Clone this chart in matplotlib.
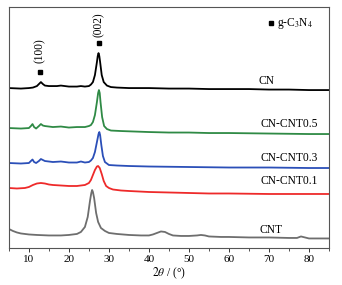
import matplotlib
matplotlib.use("Agg")
import matplotlib.pyplot as plt
from matplotlib.ticker import MultipleLocator

plt.rcParams['font.family'] = ['Liberation Serif', 'DejaVu Serif']
plt.rcParams['mathtext.fontset'] = 'stix'

# 2theta positions and stacked (offset) intensities
cn_x = [5, 8, 10, 11, 12, 12.5, 13, 13.5, 14, 15, 17, 18, 20, 22, 23, 24, 25, 25.5, 26, 26.5,
        27, 27.2, 27.4, 27.6, 27.8, 28.2, 28.7, 29.5, 30.5, 32, 35, 40, 45, 50, 55, 60, 65, 70, 75, 80, 85]
cn_y = [160, 159.5, 160, 160.5, 162, 164, 166, 164, 162.5, 162, 162, 162.5, 161.5, 161.5, 162, 161.5, 162, 163.5, 166, 173,
        186, 192, 195, 192, 186, 173, 166, 162.5, 161, 160.5, 160, 160, 159.5, 159.5, 159, 159, 159, 158.5, 158.5, 158, 158]

cnt05_x = [5, 8, 10, 10.5, 10.9, 11.3, 11.8, 12.5, 13, 13.5, 14, 16, 18, 20, 22, 24, 25, 25.5, 26, 26.5,
           27, 27.3, 27.5, 27.7, 27.9, 28.3, 28.8, 29.5, 30.5, 33, 40, 45, 50, 55, 60, 70, 80, 85]
cnt05_y = [120, 119.5, 120, 122, 124, 121, 119.5, 122, 124, 122.5, 122, 121, 121.5, 120.5, 121, 121, 122, 123, 126, 133,
           146, 155, 158, 155, 146, 131, 122, 119, 117.5, 117, 116, 115.5, 115.5, 115, 115, 114.5, 114, 114]

cnt03_x = [5, 8, 10, 10.5, 10.9, 11.3, 11.8, 12.5, 13, 13.5, 14, 16, 18, 20, 22, 23, 24, 25, 25.5, 26, 26.5,
           27, 27.4, 27.6, 27.8, 28.1, 28.5, 29, 30, 32, 35, 40, 50, 60, 70, 80, 85]
cnt03_y = [85, 84.5, 85, 87, 88.5, 86, 85, 87, 89, 88, 87, 86, 86.5, 85.5, 85.5, 86.5, 85.5, 86, 87.5, 90, 96,
           106, 114, 116, 113, 103, 92, 86, 83, 82.5, 82, 81.5, 81, 80.5, 80.5, 80, 80]

cnt01_x = [5, 7, 9, 10, 11, 12, 13, 14, 15, 16, 18, 20, 22, 24, 25, 25.5, 26, 26.5, 27, 27.3,
           27.7, 28.2, 28.7, 29.3, 30, 31, 33, 35, 40, 45, 50, 55, 60, 70, 80, 85]
cnt01_y = [60, 59.5, 60, 61, 63, 64.5, 65, 64.5, 63.5, 63, 62.5, 62, 62, 63, 65, 68, 73, 78, 81.5, 82,
           80, 74, 67, 62, 60, 58.5, 57.5, 57, 56, 55.5, 55, 54.5, 54.5, 54, 54, 54]

cnt_x = [5, 6, 7, 8, 10, 12, 15, 18, 20, 22, 23, 24, 24.7, 25.3, 25.6, 25.8, 26.0, 26.3, 26.8, 27.3,
         28, 29, 30, 32, 35, 38, 40, 41, 42, 43, 44, 45, 46, 48, 50, 52, 53, 54, 55, 58,
         60, 65, 70, 75, 77, 78, 79, 80, 85]
cnt_y = [19, 17, 15.5, 14.5, 13.5, 13, 12.5, 12.5, 13, 14, 16, 21, 31, 48, 55, 58, 56, 50, 35, 26,
         20, 17, 15, 14, 13, 12.5, 12.5, 13.5, 15, 16.5, 16, 14, 12.5, 12, 12, 12.5, 13, 12.5, 11.5, 11,
         11, 10.5, 10.5, 10, 10, 11.5, 10.5, 9.5, 9.5]

series = [
    (cn_x, cn_y, '#000000', 'CN'),
    (cnt05_x, cnt05_y, '#2f8a45', 'CN-CNT0.5'),
    (cnt03_x, cnt03_y, '#2b4fb8', 'CN-CNT0.3'),
    (cnt01_x, cnt01_y, '#ee2a2a', 'CN-CNT0.1'),
    (cnt_x, cnt_y, '#6e6e6e', 'CNT'),
]
label_pos = [(69.5, 167), (75, 124), (75, 90), (75, 67), (70.5, 18)]

fig = plt.figure(figsize=(3.42, 2.85), dpi=100)
ax = fig.add_axes([0.026, 0.130, 0.936, 0.845])

for (x, y, c, name), (lx, ly) in zip(series, label_pos):
    ax.plot(x, y, color=c, lw=1.3)
    ax.text(lx, ly, name, color='black', fontsize=8.3, ha='center', va='center')

# peak annotations
ax.plot([12.75], [176], 's', color='black', ms=3.2)
ax.text(12.75, 197, '(100)', rotation=90, ha='center', va='center', fontsize=8.3)
ax.plot([27.5], [205], 's', color='black', ms=3.2)
ax.text(27.5, 223, '(002)', rotation=90, ha='center', va='center', fontsize=8.3)

# legend-like marker
ax.plot([70.5], [225], 's', color='black', ms=3.2)
ax.text(71.9, 225, 'g-C$_3$N$_4$', ha='left', va='center', fontsize=8.3)

ax.set_xlim(5, 85)
ax.set_ylim(0, 241)
ax.set_yticks([])
ax.xaxis.set_major_locator(MultipleLocator(10))
ax.xaxis.set_minor_locator(MultipleLocator(5))
ax.set_xticks([10, 20, 30, 40, 50, 60, 70, 80])
ax.tick_params(axis='x', which='major', direction='out', length=3, width=0.7, labelsize=8, pad=2, colors='#333333', labelcolor='black')
ax.tick_params(axis='x', which='minor', direction='out', length=2, width=0.6, colors='#333333')
for s in ax.spines.values():
    s.set_color('#555555')
    s.set_linewidth(0.8)
ax.set_xlabel(r'$2\theta$ / (°)', fontsize=8.3, labelpad=1)

fig.savefig('out.png', dpi=100)
